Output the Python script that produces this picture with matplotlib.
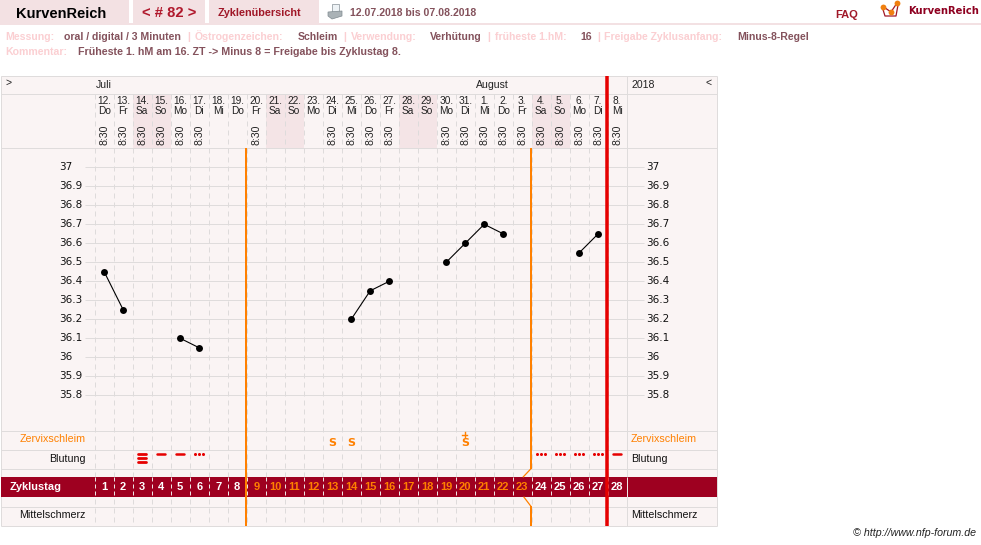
import matplotlib
matplotlib.use("Agg")
import matplotlib.pyplot as plt
from matplotlib.patches import Rectangle, Polygon

plt.rcParams['font.family'] = ['Liberation Sans', 'DejaVu Sans']

# Cycle data
dates = ['12.', '13.', '14.', '15.', '16.', '17.', '18.', '19.', '20.', '21.', '22.', '23.', '24.', '25.',
         '26.', '27.', '28.', '29.', '30.', '31.', '1.', '2.', '3.', '4.', '5.', '6.', '7.', '8.']
weekdays = ['Do', 'Fr', 'Sa', 'So', 'Mo', 'Di', 'Mi', 'Do', 'Fr', 'Sa', 'So', 'Mo', 'Di', 'Mi',
            'Do', 'Fr', 'Sa', 'So', 'Mo', 'Di', 'Mi', 'Do', 'Fr', 'Sa', 'So', 'Mo', 'Di', 'Mi']
measured_days = [1, 2, 3, 4, 5, 6, 9, 13, 14, 15, 16, 19, 20, 21, 22, 23, 24, 25, 26, 27, 28]
weekend_days = [3, 4, 10, 11, 17, 18, 24, 25]
temp_segments = [
    ([1, 2], [36.45, 36.25]),
    ([5, 6], [36.1, 36.05]),
    ([14, 15, 16], [36.2, 36.35, 36.4]),
    ([19, 20, 21, 22], [36.5, 36.6, 36.7, 36.65]),
    ([26, 27], [36.55, 36.65]),
]
temp_ticks = [37, 36.9, 36.8, 36.7, 36.6, 36.5, 36.4, 36.3, 36.2, 36.1, 36, 35.9, 35.8]
mucus_days = [13, 14, 20]
mucus_plus = [False, False, True]
heavy_days = [3]
medium_days = [4, 5, 28]
spotting_days = [6, 24, 25, 26, 27]
orange_cycle_days = range(9, 24)

# Palette
BG = '#faf4f4'
GRID = '#dfdcdc'
WEEKEND = '#f4e4e6'
TAB = '#f3e1e3'
DARKRED = '#9e0020'
RED = '#e60000'
ORANGE = '#ff8000'
PINK = '#fbcfd2'
MAUVE = '#84525c'
PX = 0.72  # one pixel in points at 100 dpi

W, H = 981, 545
fig = plt.figure(figsize=(W / 100, H / 100), dpi=100, facecolor='white')
ax = fig.add_axes([0, 0, 1, 1])
ax.set_xlim(0, W)
ax.set_ylim(H, 0)
ax.axis('off')

def box(x0, y0, x1, y1, color, z=1):
    ax.add_patch(Rectangle((x0, y0), x1 - x0, y1 - y0, fc=color, ec='none', zorder=z))

def hline(y, x0=0.5, x1=716.5, color=GRID, lw=PX, z=2):
    ax.plot([x0, x1], [y, y], color=color, lw=lw, zorder=z, solid_capstyle='butt')

def vline(x, y0, y1, color=GRID, lw=PX, z=2, **kw):
    ax.plot([x, x], [y0, y1], color=color, lw=lw, zorder=z, solid_capstyle='butt', **kw)

def label(x, y, s, size=8.0, color='black', ha='left', weight='normal', style='normal', z=8, va='center', **kw):
    ax.text(x, y, s, fontsize=size, color=color, ha=ha, va=va, fontweight=weight,
            fontstyle=style, zorder=z, **kw)

# Scales from day number and temperature to figure pixels
def day_x(d):
    return 104.2 + (d - 1) * 19.0

def day_edge(d):
    return 94.5 + (d - 1) * 19.0

def temp_y(t):
    return 167.3 + (37 - t) * 190.0

# Page header
box(0, 0, 128.5, 23, TAB)
box(133, 0, 205, 23, TAB)
box(209, 0, 319, 23, TAB)
hline(24, 0, 981, color=TAB, lw=2 * PX)
label(16, 17.5, 'KurvenReich', size=10.5, weight='bold', va='baseline')
label(169.5, 17, '< # 82 >', size=10.6, weight='bold', color='#b0182c', ha='center', va='baseline')
label(259.5, 16, 'Zyklenübersicht', size=7.8, weight='bold', color='#a01828', ha='center', va='baseline')
label(350, 16, '12.07.2018 bis 07.08.2018', size=7.6, weight='bold', color=MAUVE, va='baseline')
label(847, 17.5, 'FAQ', size=8, weight='bold', color='#a01828', ha='center', va='baseline')
label(908, 14, 'KurvenReich', size=7.2, weight='bold', color='#8e0020', family='DejaVu Sans', va='baseline')

# Printer icon
ax.add_patch(Rectangle((332, 3.5), 7, 8, fc='#eef3f6', ec='#9aa3a8', lw=0.6, zorder=5))
ax.add_patch(Polygon([(328, 12), (342, 11), (342, 16), (332, 19), (328, 16)], fc='#aab2b6', ec='#808a90', lw=0.5, zorder=5))

# Logo mark
ax.plot([882.5, 885, 896, 898], [8, 16, 16, 5], color='#a01828', lw=0.9, zorder=5)
ax.plot([883, 891, 897], [6.5, 12, 3], color='#a01828', lw=0.9, zorder=5)
ax.plot([883, 891, 897], [6.5, 12, 3], ls='none', marker='o', ms=4.2, mew=0, color='#f08010', zorder=6)

# Cycle settings lines
for x, s, c in [(5, 'Messung:', PINK), (64, 'oral / digital / 3 Minuten', MAUVE), (187, '|', PINK),
                (195, 'Östrogenzeichen:', PINK), (298, 'Schleim', MAUVE), (343, '|', PINK),
                (351, 'Verwendung:', PINK), (430, 'Verhütung', MAUVE), (487, '|', PINK),
                (495, 'früheste 1.hM:', PINK), (580, '16', MAUVE), (597, '|', PINK),
                (604, 'Freigabe Zyklusanfang:', PINK), (737, 'Minus-8-Regel', MAUVE)]:
    label(x, 40, s, size=7.6, weight='bold', color=c, va='baseline')
label(5, 55, 'Kommentar:', size=7.6, weight='bold', color=PINK, va='baseline')
label(78, 55, 'Früheste 1. hM am 16. ZT -> Minus 8 = Freigabe bis Zyklustag 8.', size=7.65,
      weight='bold', color=MAUVE, va='baseline')

# Chart panel
box(0.5, 75.5, 716.5, 525.5, BG, z=0)

# Weekend shading in the date header
for d in weekend_days:
    box(day_edge(d), 94, day_edge(d) + 19, 147.5, WEEKEND, z=1)

# Temperature grid
for t in temp_ticks:
    hline(temp_y(t), 85, 644)

# Row separators
for y in [75.5, 93.5, 147.5, 430.5, 449.5, 468.5, 506.5, 525.5]:
    hline(y)
vline(0.5, 75.5, 525.5)
vline(716.5, 75.5, 525.5)
vline(626.5, 75.5, 525.5)

# Dashed day separators
for d in range(1, 29):
    vline(day_edge(d), 94, 525.5, linestyle=(0, (5, 4)), color='#dedbdb')

# Month and year row
label(96, 85, 'Juli', size=7.6, color='#222222')
label(476, 85, 'August', size=7.6, color='#222222')
label(631, 85, '2018', size=7.6, color='#222222')
label(5, 83, '>', size=7.5, color='#222222')
label(709, 83, '<', size=7.5, color='#222222', ha='center')

# Dates, weekdays and measuring times
for i, (date, wd) in enumerate(zip(dates, weekdays)):
    x = day_x(i + 1)
    label(x, 101.5, date, size=7.3, color='#222222', ha='center')
    label(x, 111.5, wd, size=7.3, color='#222222', ha='center')
for d in measured_days:
    ax.text(day_x(d), 134.5, '8:30', fontsize=7.6, color='#222222', rotation=90, ha='center', va='center', zorder=8)

# Temperature axis labels on both sides
for t in temp_ticks:
    s = f'{t:g}'
    label(59.5, temp_y(t) - 0.5, s, size=7.5, color='#111111', family='DejaVu Sans')
    label(646.5, temp_y(t) - 0.5, s, size=7.5, color='#111111', family='DejaVu Sans')

# Temperature curve
for days, temps in temp_segments:
    ax.plot([day_x(d) for d in days], [temp_y(t) for t in temps], color='black', lw=0.8,
            marker='o', ms=5.0, mew=0, zorder=7)

# Row titles
label(85.5, 439.5, 'Zervixschleim', size=7.7, color=ORANGE, ha='right')
label(85.5, 458.5, 'Blutung', size=7.7, color='#111111', ha='right')
label(86, 515.5, 'Mittelschmerz', size=7.7, color='#111111', ha='right')
label(631, 439.5, 'Zervixschleim', size=7.7, color=ORANGE)
label(631, 458.5, 'Blutung', size=7.7, color='#111111')
label(631, 515.5, 'Mittelschmerz', size=7.7, color='#111111')

# Cervical mucus symbols
for d, plus in zip(mucus_days, mucus_plus):
    x = day_x(d) - 0.3
    label(x, 446.3, 'S', size=8, color=ORANGE, ha='center', weight='bold', family='DejaVu Sans', va='baseline')
    if plus:
        ax.plot([x - 2.5, x + 2.5], [434.5, 434.5], color=ORANGE, lw=1.0, zorder=8)
        ax.plot([x, x], [432, 437], color=ORANGE, lw=1.0, zorder=8)

# Bleeding symbols
for d in heavy_days:
    for y in [454.3, 458.3, 462.3]:
        ax.plot([day_x(d) - 4, day_x(d) + 4], [y, y], color=RED, lw=2.0, solid_capstyle='round', zorder=7)
for d in medium_days:
    ax.plot([day_x(d) - 4, day_x(d) + 4], [454.3, 454.3], color=RED, lw=1.8, solid_capstyle='round', zorder=7)
for d in spotting_days:
    xs = [day_x(d) - 4, day_x(d), day_x(d) + 4]
    ax.plot(xs, [454.3] * 3, ls='none', marker='o', ms=2.2, mew=0, color=RED, zorder=7)

# Cycle day band
box(0.5, 477, 716.5, 496.5, DARKRED, z=3)
label(10, 487, 'Zyklustag', size=7.9, weight='bold', color='white')
for d in range(1, 29):
    vline(day_edge(d), 477, 496.5, color='#eee6e6', z=4, linestyle=(0, (4, 3)))
    c = ORANGE if d in orange_cycle_days else 'white'
    label(day_x(d), 487, str(d), size=8.0, weight='bold', color=c, ha='center')
vline(626.5, 477, 496.5, color='#eee6e6', z=4)

# Phase boundaries
vline(245.7, 148, 525.5, color=ORANGE, lw=2 * PX, z=6)
vline(530.7, 148, 469, color=ORANGE, lw=2 * PX, z=6)
vline(530.7, 506, 525.5, color=ORANGE, lw=2 * PX, z=6)
ax.plot([530.7, 523.3], [469, 476.8], color=ORANGE, lw=0.9, zorder=6)
ax.plot([530.7, 524], [506, 497.2], color=ORANGE, lw=0.9, zorder=6)
vline(607.3, 75.5, 525.5, color=RED, lw=3.5 * PX, z=6)

# Credit
label(976, 533, '© http://www.nfp-forum.de', size=7.7, color='#222222', ha='right', style='italic')

fig.savefig('out.png', dpi=100, facecolor='white')
